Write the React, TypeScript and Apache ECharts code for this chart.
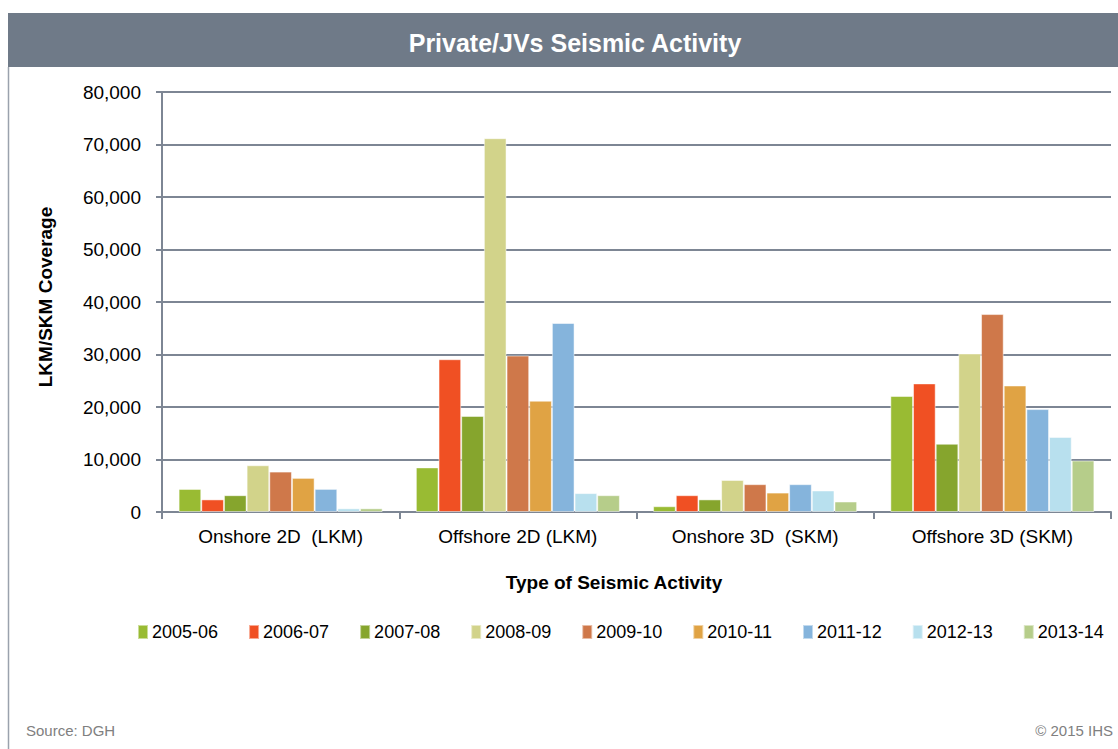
import React, { useEffect, useRef } from "react";
import * as echarts from "echarts";

const categories = ["Onshore 2D  (LKM)", "Offshore 2D (LKM)", "Onshore 3D  (SKM)", "Offshore 3D (SKM)"];
const seriesNames = ["2005-06", "2006-07", "2007-08", "2008-09", "2009-10", "2010-11", "2011-12", "2012-13", "2013-14"];
const seriesColors = ["#99bb33", "#f05023", "#86a52d", "#d2d38a", "#cf784a", "#e0a344", "#85b4dc", "#b8e0ee", "#b6cd8a"];

const v2005 = [4400, 8500, 1100, 22100];
const v2006 = [2400, 29100, 3200, 24500];
const v2007 = [3200, 18300, 2400, 13000];
const v2008 = [8900, 71200, 6100, 30200];
const v2009 = [7700, 29800, 5300, 37700];
const v2010 = [6500, 21200, 3700, 24100];
const v2011 = [4400, 36000, 5300, 19600];
const v2012 = [700, 3600, 4100, 14300];
const v2013 = [700, 3200, 2000, 9800];
const seriesValues = [v2005, v2006, v2007, v2008, v2009, v2010, v2011, v2012, v2013];

const yMin = 0;
const yMax = 80000;
const yInterval = 10000;

const FONT = "'Liberation Sans', Arial, sans-serif";
const AXIS_GRAY = "#7d8694";

export default function App() {
  const ref = useRef<HTMLDivElement>(null);
  useEffect(() => {
    if (!ref.current) return;
    const chart = echarts.init(ref.current, null, { renderer: "svg" });
    chart.setOption({
      animation: false,
      backgroundColor: "#ffffff",
      textStyle: { fontFamily: FONT },
      title: {
        text: "Private/JVs Seismic Activity",
        left: 570,
        top: 25,
        textAlign: "center",
        textStyle: { color: "#ffffff", fontSize: 25, fontWeight: "bold", fontFamily: FONT },
      },
      graphic: [
        { type: "rect", z: -1, shape: { x: 8, y: 13, width: 1110, height: 54 }, style: { fill: "#6f7a88" } },
        { type: "line", shape: { x1: 8.5, y1: 67, x2: 8.5, y2: 749 }, style: { stroke: "#9aa2ad", lineWidth: 1.5 } },
        {
          type: "text",
          left: 26,
          top: 723,
          style: { text: "Source: DGH", fill: "#808080", font: `15px ${FONT}` },
        },
        {
          type: "text",
          right: 5,
          top: 723,
          style: { text: "\u00a9 2015 IHS", fill: "#808080", font: `15px ${FONT}` },
        },
        {
          type: "text",
          x: 614,
          y: 582,
          style: {
            text: "Type of Seismic Activity",
            fill: "#000000",
            font: `bold 19px ${FONT}`,
            align: "center",
            verticalAlign: "middle",
          },
        },
        {
          type: "text",
          x: 45,
          y: 297,
          rotation: Math.PI / 2,
          style: {
            text: "LKM/SKM Coverage",
            fill: "#000000",
            font: `bold 19px ${FONT}`,
            align: "center",
            verticalAlign: "middle",
          },
        },
      ],
      legend: {
        data: seriesNames,
        left: 137,
        top: 623,
        padding: 0,
        icon: "rect",
        itemWidth: 10,
        itemHeight: 14,
        itemGap: 30,
        textStyle: { fontSize: 18, color: "#000000", fontFamily: FONT, padding: [0, 0, 0, -1] },
      },
      grid: { left: 162, right: 7, top: 92, bottom: 237, containLabel: false },
      xAxis: {
        type: "category",
        data: categories,
        axisLine: { show: true, lineStyle: { color: AXIS_GRAY, width: 2 } },
        axisTick: { show: true, interval: 0, length: 7, lineStyle: { color: AXIS_GRAY, width: 2 } },
        axisLabel: { interval: 0, margin: 15, fontSize: 19, color: "#000000", fontFamily: FONT },
        splitLine: { show: false },
      },
      yAxis: {
        type: "value",
        min: yMin,
        max: yMax,
        interval: yInterval,
        axisLine: { show: true, lineStyle: { color: AXIS_GRAY, width: 2 } },
        axisTick: { show: true, length: 6, lineStyle: { color: AXIS_GRAY, width: 2 } },
        axisLabel: {
          margin: 21,
          fontSize: 19,
          color: "#000000",
          fontFamily: FONT,
          formatter: (v: number) => v.toLocaleString("en-US"),
        },
        splitLine: { show: true, lineStyle: { color: AXIS_GRAY, width: 2 } },
      },
      series: seriesNames.map((name, i) => ({
        name,
        type: "bar",
        data: seriesValues[i],
        barGap: "0%",
        barCategoryGap: "14%",
        itemStyle: { color: seriesColors[i], borderColor: "rgba(255,255,255,0.5)", borderWidth: 1 },
      })),
    });
    return () => chart.dispose();
  }, []);
  return (
    <div
      ref={ref}
      style={{ position: "absolute", left: 0, top: 0, width: 1118, height: 749 }}
    />
  );
}
